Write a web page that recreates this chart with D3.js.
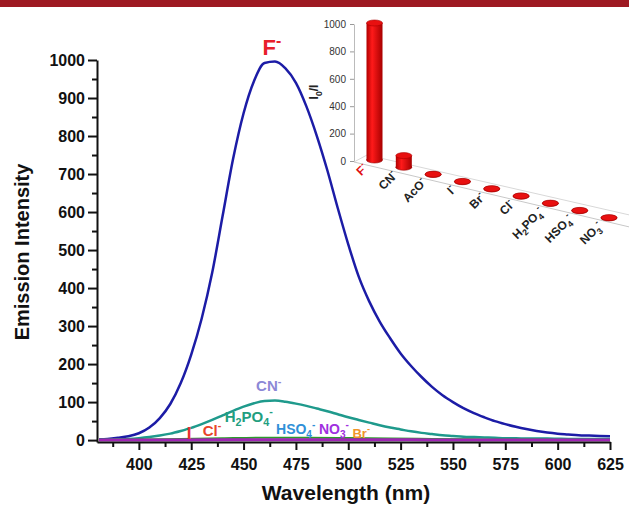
<!DOCTYPE html>
<html>
<head>
<meta charset="utf-8">
<script src="https://d3js.org/d3.v7.min.js"></script>
<style>
body { margin: 0; background: #fff; }
#vis { width: 629px; height: 507px; }
text { font-family: 'Liberation Sans', Arial, sans-serif; }
</style>
</head>
<body>
<div id="vis"></div>
<script>
// emission spectra
var wavelengths = [381, 385, 390, 395, 400, 405, 410, 415, 420, 425, 430, 435, 440, 445, 450, 455, 460, 465, 470, 475,
    480, 485, 490, 495, 500, 505, 510, 515, 520, 525, 530, 535, 540, 545, 550, 555, 560, 565, 570, 575,
    580, 585, 590, 595, 600, 605, 610, 615, 620, 625];
var fluoride = [2, 3, 6, 10, 18, 33, 58, 95, 150, 225, 320, 440, 590, 740, 860, 945, 992, 996, 978, 940,
    878, 800, 710, 610, 515, 430, 365, 312, 268, 228, 195, 166, 140, 118, 100, 84, 71, 60, 50, 42,
    35, 29, 24, 20, 17, 15, 13, 12, 11, 10];
var cyanide = [1, 1, 2, 3, 5, 8, 12, 17, 24, 32, 42, 53, 65, 77, 88, 97, 103, 104, 101, 96,
    90, 83, 76, 68, 60, 53, 46, 39, 33, 28, 23, 19, 16, 13, 11, 9, 8, 7, 6, 5,
    5, 4, 4, 4, 3.5, 3, 3, 3, 3, 3];
var wlSmall = [381, 400, 420, 440, 460, 480, 500, 520, 540, 560, 580, 600, 625];
var greenSeries = [1, 1.5, 3, 5, 6.5, 6.5, 5.5, 4, 3, 2, 1.5, 1, 1];
var purpleSeries = [0, 0, 0.5, 1, 1, 1, 1, 1, 0.5, 0.5, 0.5, 0, 0];

var xTicks = [400, 425, 450, 475, 500, 525, 550, 575, 600, 625];
var xMinor = [387.5, 412.5, 437.5, 462.5, 487.5, 512.5, 537.5, 562.5, 587.5, 612.5];
var yTicks = [0, 100, 200, 300, 400, 500, 600, 700, 800, 900, 1000];
var yMinor = [50, 150, 250, 350, 450, 550, 650, 750, 850, 950];

// inset: I0/I for each anion
var anions = ['F-', 'CN-', 'AcO-', 'I-', 'Br-', 'Cl-', 'H2PO4-', 'HSO4-', 'NO3-'];
var ratios = [1000, 85, 2, 2, 2, 2, 2, 2, 2];
var insetTicks = [0, 200, 400, 600, 800, 1000];

var svg = d3.select('#vis')
    .append('svg')
    .attr('width', 629)
    .attr('height', 507);

// journal banner
svg.append('rect')
    .attr('x', 0).attr('y', 0)
    .attr('width', 629).attr('height', 7)
    .attr('fill', '#9e1a22');

// writes a formula like H2PO4- with sub/superscripts
function formula(sel, str, size) {
    var shift = 0;
    str.match(/[A-Za-z()\/]+|\d+|-/g).forEach(function(p) {
        var target = /^\d+$/.test(p) ? size * 0.3 : (p === '-' ? -size * 0.45 : 0);
        sel.append('tspan')
            .attr('dy', target - shift)
            .attr('font-size', target === 0 ? size : size * 0.72)
            .text(p);
        shift = target;
    });
}

var x = d3.scaleLinear()
    .domain([380, 625])
    .range([97, 610]);

var y = d3.scaleLinear()
    .domain([-5, 1000])
    .range([442, 60]);

var line = d3.line()
    .x(function(d) { return x(d[0]); })
    .y(function(d) { return y(d[1]); })
    .curve(d3.curveMonotoneX);

var series = [
    { wl: wavelengths, v: fluoride, color: '#1c1ca6', w: 2.5 },
    { wl: wavelengths, v: cyanide, color: '#1f9a8c', w: 2.5 },
    { wl: wlSmall, v: greenSeries, color: '#2c9a2c', w: 2 },
    { wl: wlSmall, v: purpleSeries, color: '#a024b4', w: 3 }
];

svg.selectAll('.spec')
    .data(series)
    .enter()
    .append('path')
    .attr('class', 'spec')
    .attr('fill', 'none')
    .attr('stroke', function(d) { return d.color; })
    .attr('stroke-width', function(d) { return d.w; })
    .attr('d', function(d) {
        return line(d.wl.map(function(w, i) { return [w, d.v[i]]; }));
    });

// axes
var xAxis = svg.append('g')
    .attr('transform', 'translate(0,' + y(-5) + ')')
    .call(d3.axisBottom(x).tickValues(xTicks).tickSize(8).tickSizeOuter(0));
svg.append('g')
    .attr('transform', 'translate(0,' + y(-5) + ')')
    .call(d3.axisBottom(x).tickValues(xMinor).tickSize(5).tickFormat(''))
    .select('.domain').remove();

var yAxis = svg.append('g')
    .attr('transform', 'translate(' + x(380) + ',0)')
    .call(d3.axisLeft(y).tickValues(yTicks).tickSize(9).tickSizeOuter(0).tickFormat(d3.format('d')));
svg.append('g')
    .attr('transform', 'translate(' + x(380) + ',0)')
    .call(d3.axisLeft(y).tickValues(yMinor).tickSize(5).tickFormat(''))
    .select('.domain').remove();

svg.selectAll('.domain, .tick line')
    .attr('stroke', '#111')
    .attr('stroke-width', 2);
xAxis.selectAll('text')
    .attr('font-size', 16).attr('font-weight', 'bold').attr('fill', '#111')
    .attr('font-family', 'Liberation Sans, Arial, sans-serif')
    .attr('dy', '1.05em');
yAxis.selectAll('text')
    .attr('font-size', 16).attr('font-weight', 'bold').attr('fill', '#111')
    .attr('font-family', 'Liberation Sans, Arial, sans-serif')
    .attr('x', -12);

svg.append('text')
    .attr('transform', 'translate(29,252) rotate(-90)')
    .attr('text-anchor', 'middle')
    .attr('font-size', 20).attr('font-weight', 'bold').attr('fill', '#111')
    .text('Emission Intensity');

svg.append('text')
    .attr('x', 346)
    .attr('y', 500)
    .attr('text-anchor', 'middle')
    .attr('font-size', 21).attr('font-weight', 'bold').attr('fill', '#111')
    .text('Wavelength (nm)');

// curve labels
var curveLabels = [
    { t: 'F-', nm: 463.5, v: 1012, c: '#e8202a', s: 22, a: 'middle' },
    { t: 'CN-', nm: 462, v: 128, c: '#8c88d6', s: 15, a: 'middle' },
    { t: 'Cl-', nm: 430.5, v: 12, c: '#e8452a', s: 15, a: 'start' },
    { t: 'H2PO4-', nm: 441, v: 48, c: '#229e80', s: 15, a: 'start' },
    { t: 'HSO4-', nm: 465.5, v: 16, c: '#3090d8', s: 14, a: 'start' },
    { t: 'NO3-', nm: 486, v: 16, c: '#a030e0', s: 14, a: 'start' },
    { t: 'Br-', nm: 502, v: 6, c: '#f0962a', s: 13, a: 'start' },
    { t: 'I', nm: 424, v: 3, c: '#e83030', s: 17, a: 'middle' }
];
curveLabels.forEach(function(d) {
    var t = svg.append('text')
        .attr('x', x(d.nm))
        .attr('y', y(d.v))
        .attr('text-anchor', d.a)
        .attr('font-weight', 'bold')
        .attr('fill', d.c);
    formula(t, d.t, d.s);
});

// ---- inset 3D bar chart ----
var ix = d3.scalePoint()
    .domain(anions)
    .range([374.5, 609]);
var ih = d3.scaleLinear()
    .domain([0, 1000])
    .range([0, 137]);
var iy = d3.scaleLinear()
    .domain([0, 1000])
    .range([161, 24]);
function floorY(px) {
    return 160 + (px - 374.5) * 0.247;
}

var defs = svg.append('defs');
var grad = defs.append('linearGradient')
    .attr('id', 'cyl')
    .attr('x1', '0%').attr('x2', '100%');
grad.append('stop').attr('offset', '0%').attr('stop-color', '#b00000');
grad.append('stop').attr('offset', '35%').attr('stop-color', '#ff1a1a');
grad.append('stop').attr('offset', '100%').attr('stop-color', '#a80000');

// floor
var floorLine = d3.line();
svg.append('path')
    .attr('d', floorLine([[354, 162], [629, floorY(629) + 4]]))
    .attr('stroke', '#c8c8c8').attr('fill', 'none');
svg.append('path')
    .attr('d', floorLine([[354, 162], [367, 155], [629, floorY(629) - 8]]))
    .attr('stroke', '#d8d8d8').attr('fill', 'none');

var insetAxis = svg.append('g')
    .attr('transform', 'translate(354,0)')
    .call(d3.axisLeft(iy).tickValues(insetTicks).tickSize(4).tickSizeOuter(0).tickFormat(d3.format('d')));
insetAxis.select('.domain').attr('stroke', '#bbb');
insetAxis.selectAll('.tick line').attr('stroke', '#999');
insetAxis.selectAll('text')
    .attr('font-size', 10).attr('fill', '#333')
    .attr('font-family', 'Liberation Sans, Arial, sans-serif')
    .attr('x', -8);

var yl = svg.append('text')
    .attr('transform', 'translate(318,92) rotate(-90)')
    .attr('text-anchor', 'middle')
    .attr('font-weight', 'bold').attr('fill', '#222');
formula(yl, 'I0/I', 12);

var bars = svg.selectAll('.cyl')
    .data(anions)
    .enter()
    .append('g')
    .attr('class', 'cyl');
bars.each(function(a, i) {
    var g = d3.select(this);
    var cx = ix(a), by = floorY(cx), top = by - ih(ratios[i]);
    g.append('ellipse')
        .attr('cx', cx).attr('cy', by).attr('rx', 8).attr('ry', 3)
        .attr('fill', 'url(#cyl)').attr('stroke', '#900').attr('stroke-width', 0.6);
    g.append('rect')
        .attr('x', cx - 8).attr('y', top)
        .attr('width', 16).attr('height', by - top)
        .attr('fill', 'url(#cyl)');
    g.append('ellipse')
        .attr('cx', cx).attr('cy', top).attr('rx', 8).attr('ry', 3)
        .attr('fill', '#e81010').attr('stroke', '#a00').attr('stroke-width', 0.6);
});

svg.selectAll('.alabel')
    .data(anions)
    .enter()
    .append('text')
    .attr('class', 'alabel')
    .attr('transform', function(a) {
        var cx = ix(a);
        return 'translate(' + (cx - 6) + ',' + (floorY(cx) + 9) + ') rotate(-45)';
    })
    .attr('text-anchor', 'end')
    .attr('font-weight', 'bold')
    .attr('fill', function(a) { return a === 'F-' ? '#e01010' : '#222'; })
    .each(function(a) { formula(d3.select(this), a, 12); });
</script>
</body>
</html>
